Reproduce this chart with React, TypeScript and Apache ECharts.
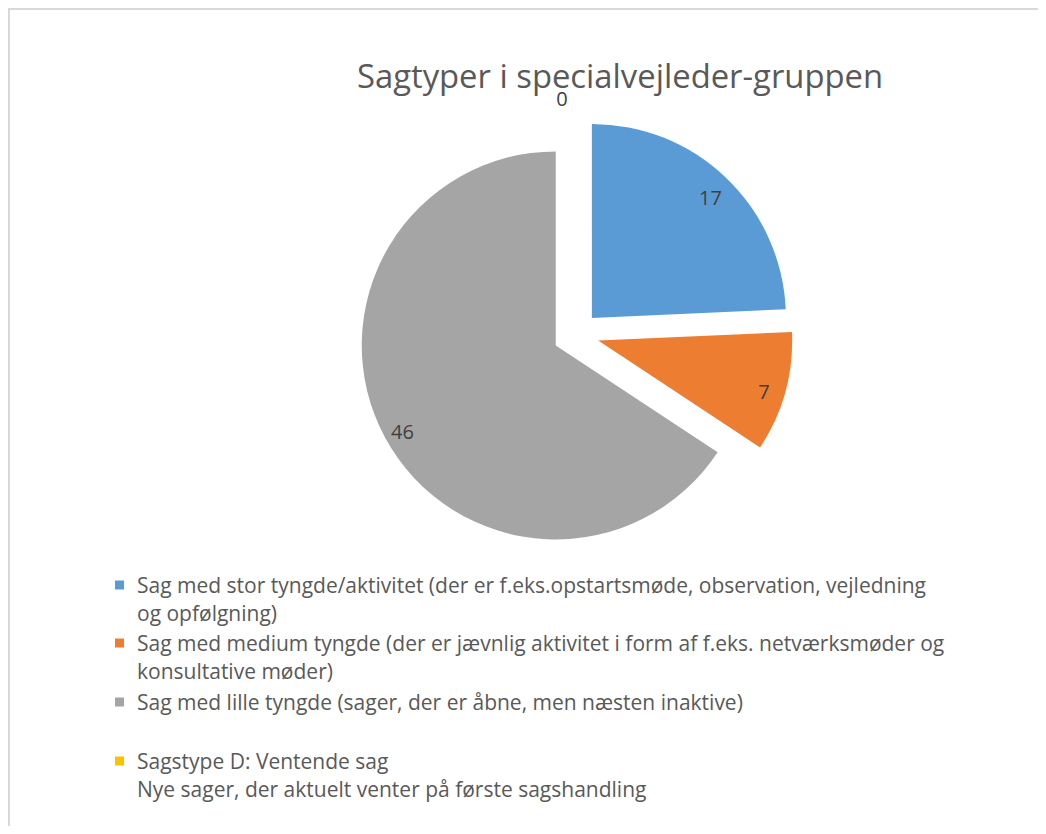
import React, { useEffect, useRef } from "react";
import * as echarts from "echarts";

const TITLE = "Sagtyper i specialvejleder-gruppen";
const categories = [
  "Sag med stor tyngde/aktivitet (der er f.eks.opstartsmøde, observation, vejledning\nog opfølgning)",
  "Sag med medium tyngde (der er jævnlig aktivitet i form af f.eks. netværksmøder og\nkonsultative møder)",
  "Sag med lille tyngde (sager, der er åbne, men næsten inaktive)",
  "Sagstype D: Ventende sag\nNye sager, der aktuelt venter på første sagshandling",
];
const values = [17, 7, 46, 0];
const colors = ["#5b9bd5", "#ed7d31", "#a5a5a5", "#ffc000"];
const legendTops = [533, 591, 678, 709];

const FONT = "'Open Sans', sans-serif";

export default function App() {
  const ref = useRef<HTMLDivElement>(null);
  useEffect(() => {
    if (!ref.current) return;
    const chart = echarts.init(ref.current, undefined, { renderer: "svg" });
    const legends = categories.map((name, i) => {
      const multi = name.indexOf("\n") >= 0;
      return {
        data: [name],
        orient: "vertical",
        left: 105,
        top: legendTops[i],
        padding: 0,
        itemWidth: 9,
        itemHeight: 9,
        icon: "rect",
        selectedMode: false,
        formatter: (n: string) => (multi ? "\n" + n : n),
        textStyle: {
          fontFamily: FONT,
          fontSize: 21,
          color: "#595959",
          lineHeight: 28,
          padding: [0, 0, 0, 8],
        },
      };
    });
    chart.setOption({
      animation: false,
      color: colors,
      title: {
        text: TITLE,
        left: 610,
        textAlign: "center",
        top: 49,
        padding: 0,
        textStyle: { fontFamily: FONT, fontSize: 32.8, fontWeight: "normal", color: "#595959" },
      },
      legend: legends,
      series: [
        {
          type: "pie",
          center: [566, 324.5],
          radius: [0, 194],
          startAngle: 90,
          clockwise: true,
          selectedMode: "multiple",
          selectedOffset: 23,
          silent: true,
          label: { show: false },
          labelLine: { show: false },
          data: categories.map((name, i) => ({ name, value: values[i], selected: true })),
        },
        {
          type: "pie",
          center: [565, 329],
          radius: [146, 194],
          startAngle: 90,
          clockwise: true,
          selectedMode: "multiple",
          selectedOffset: 23,
          silent: true,
          itemStyle: { color: "rgba(0,0,0,0)" },
          label: {
            show: true,
            position: "inside",
            formatter: "{c}",
            fontFamily: FONT,
            fontSize: 20,
            color: "#404040",
          },
          labelLine: { show: false },
          data: categories.map((name, i) => ({
            name,
            value: values[i],
            selected: true,
            label:
              values[i] === 0
                ? { formatter: "{c}\n\n\n", lineHeight: 30, padding: [0, 26, 0, 0] }
                : undefined,
          })),
        },
      ],
    });
    return () => chart.dispose();
  }, []);
  return (
    <div
      style={{
        width: 1028,
        height: 816,
        borderTop: "2px solid #d9d9d9",
        borderLeft: "2px solid #d9d9d9",
        background: "#fff",
      }}
    >
      <div ref={ref} style={{ width: 1028, height: 816 }} />
    </div>
  );
}
